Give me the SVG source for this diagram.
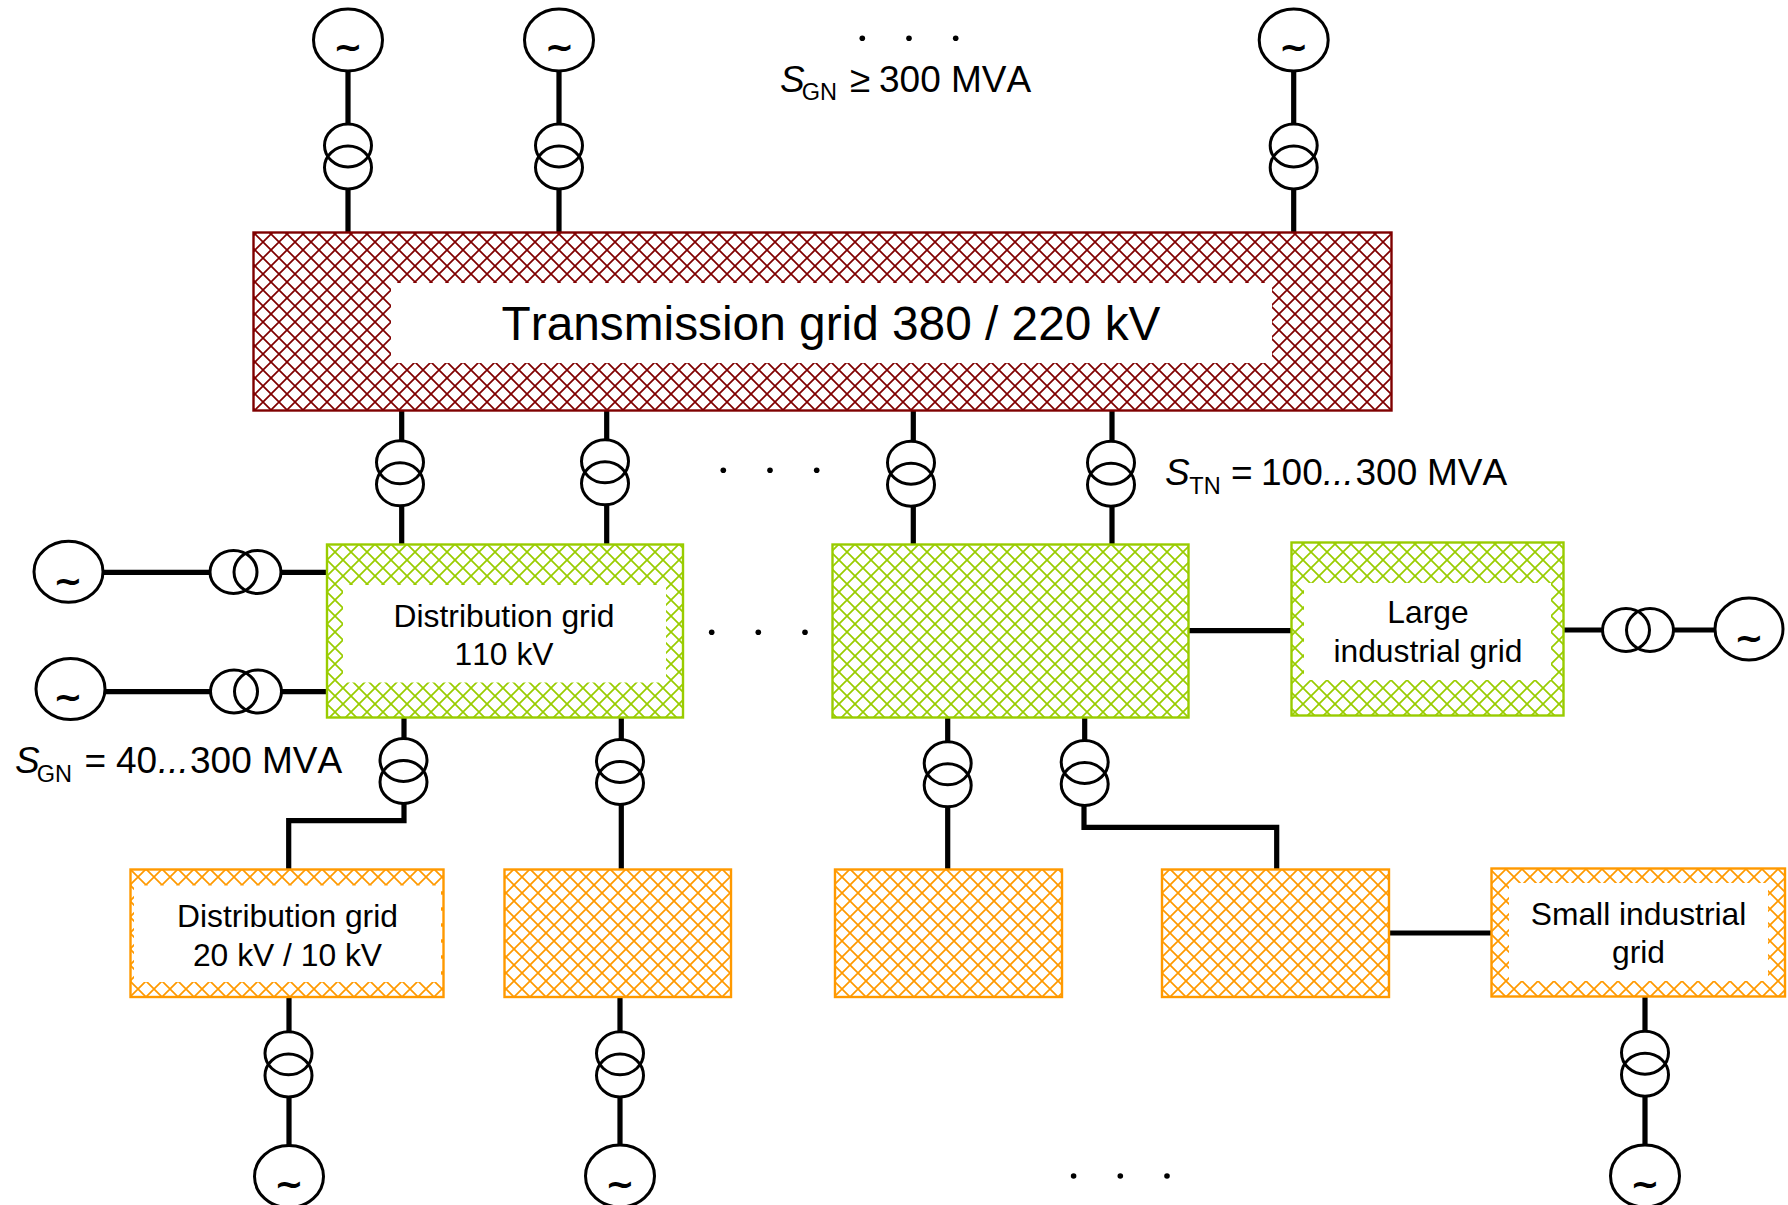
<svg xmlns="http://www.w3.org/2000/svg" width="1788" height="1205" viewBox="0 0 1788 1205">
<style>
text{font-family:"Liberation Sans",Arial,sans-serif;fill:#000;font-kerning:none}
.lbl{font-size:31.8px;text-anchor:middle}
.big{font-size:47.8px;text-anchor:middle}
.eq{font-size:37px}
.sub{font-size:23.5px}
.it{font-style:italic}
.tilde{font-family:"DejaVu Sans",sans-serif;font-weight:bold;font-size:35px;text-anchor:middle}
.gen,.xf{fill:none;stroke:#000;stroke-width:3}
.wire{fill:none;stroke:#000;stroke-width:5.2;stroke-linejoin:miter}
.r{stroke:#7f0000;stroke-width:2.4;fill:url(#pr)}
.g{stroke:#99cc00;stroke-width:2.4;fill:url(#pg)}
.o{stroke:#ff9900;stroke-width:2.4;fill:url(#po)}
.hole{fill:#fff;stroke:none}
.dot{fill:#000}
</style>
<defs>
<pattern id="pr" patternUnits="userSpaceOnUse" width="16" height="16" x="255" y="234"><path d="M-1 -1L17 17M17 -1L-1 17" stroke="#7f0000" stroke-width="1.7" fill="none"/></pattern>
<pattern id="pg" patternUnits="userSpaceOnUse" width="16" height="16" x="327" y="544"><path d="M-1 -1L17 17M17 -1L-1 17" stroke="#99cc00" stroke-width="1.7" fill="none"/></pattern>
<pattern id="po" patternUnits="userSpaceOnUse" width="16" height="16" x="130" y="869"><path d="M-1 -1L17 17M17 -1L-1 17" stroke="#ff9900" stroke-width="1.7" fill="none"/></pattern>
</defs>

<g id="connectors">
<path class="wire" d="M348 71V124M348 189V232"/>
<path class="wire" d="M559 71V124M559 189V232"/>
<path class="wire" d="M1293.700 71V124M1293.700 189V232"/>
<path class="wire" d="M401.700 411V441M401.700 506V544"/>
<path class="wire" d="M606.700 411V440M606.700 505V544"/>
<path class="wire" d="M913.300 411V441M913.300 506V544"/>
<path class="wire" d="M1112 411V441M1112 506V544"/>
<path class="wire" d="M104 572.300H210M281 572.300H326"/>
<path class="wire" d="M105 691.700H210.500M282 691.700H326"/>
<path class="wire" d="M404 718V738M404 804V820.700H288.700V869"/>
<path class="wire" d="M621.300 717V740M621.300 805V869"/>
<path class="wire" d="M947.700 717V741M947.700 807V869"/>
<path class="wire" d="M1084.700 717V740M1084 806V827.300H1276.700V869"/>
<path class="wire" d="M1189 630.700H1291"/>
<path class="wire" d="M1563.500 630H1603M1674 630H1715"/>
<path class="wire" d="M1389 933H1491"/>
<path class="wire" d="M289 997V1031M289 1097V1146"/>
<path class="wire" d="M620 997V1031M620 1097V1146"/>
<path class="wire" d="M1645 997V1031M1645 1096V1146"/>
</g>

<g id="transmission-grid"><rect class="r" x="253.500" y="232.500" width="1138" height="178"/><rect class="hole" x="391" y="283" width="881" height="80"/><text class="big" x="831" y="340">Transmission grid 380 / 220 kV</text></g>
<g id="distribution-110-a"><rect class="g" x="327" y="544.500" width="356" height="173"/><rect class="hole" x="343" y="585" width="323" height="97.500"/><text class="lbl" x="504" y="626.500">Distribution grid</text><text class="lbl" x="504" y="664.500">110 kV</text></g>
<g id="distribution-110-b"><rect class="g" x="832.500" y="544.500" width="356" height="173"/></g>
<g id="large-industrial"><rect class="g" x="1291.500" y="542.500" width="272" height="173"/><rect class="hole" x="1304" y="583" width="247" height="97"/><text class="lbl" x="1428" y="623">Large</text><text class="lbl" x="1428" y="661.500">industrial grid</text></g>
<g id="distribution-20-a"><rect class="o" x="130.500" y="869.500" width="313" height="127.500"/><rect class="hole" x="134" y="885.500" width="307" height="96.500"/><text class="lbl" x="287.500" y="926.500">Distribution grid</text><text class="lbl" x="287.500" y="965.500">20 kV / 10 kV</text></g>
<g id="distribution-20-b"><rect class="o" x="504.500" y="869.500" width="226.500" height="127.500"/></g>
<g id="distribution-20-c"><rect class="o" x="835" y="869.500" width="227" height="127.500"/></g>
<g id="distribution-20-d"><rect class="o" x="1162" y="869.500" width="227" height="127.500"/></g>
<g id="small-industrial"><rect class="o" x="1491.500" y="868.500" width="293.500" height="128"/><rect class="hole" x="1509" y="883" width="259" height="98"/><text class="lbl" x="1638.500" y="925">Small industrial</text><text class="lbl" x="1638.500" y="963">grid</text></g>

<g id="gen-top-1"><ellipse class="gen" cx="348" cy="40" rx="34.500" ry="31"/><text class="tilde" x="348" y="59">~</text></g>
<g id="gen-top-2"><ellipse class="gen" cx="559" cy="40" rx="34.500" ry="31"/><text class="tilde" x="559.500" y="59">~</text></g>
<g id="gen-top-3"><ellipse class="gen" cx="1293.700" cy="40" rx="34.500" ry="31"/><text class="tilde" x="1293.700" y="59">~</text></g>
<g id="gen-left-1"><ellipse class="gen" cx="68.500" cy="571.700" rx="34.500" ry="30.500"/><text class="tilde" x="68" y="593">~</text></g>
<g id="gen-left-2"><ellipse class="gen" cx="70.500" cy="689" rx="34.500" ry="30.500"/><text class="tilde" x="68" y="709">~</text></g>
<g id="gen-right"><ellipse class="gen" cx="1749" cy="629" rx="34" ry="31"/><text class="tilde" x="1749" y="650">~</text></g>
<g id="gen-bottom-1"><ellipse class="gen" cx="289" cy="1176.500" rx="34.500" ry="31"/><text class="tilde" x="289" y="1196">~</text></g>
<g id="gen-bottom-2"><ellipse class="gen" cx="620" cy="1176" rx="34.500" ry="31"/><text class="tilde" x="620" y="1196">~</text></g>
<g id="gen-bottom-3"><ellipse class="gen" cx="1645" cy="1176" rx="34.500" ry="31"/><text class="tilde" x="1645" y="1196">~</text></g>

<g id="xf-top-1"><ellipse class="xf" cx="348" cy="145.500" rx="23.500" ry="21.500"/><ellipse class="xf" cx="348" cy="167.500" rx="23.500" ry="21.500"/></g>
<g id="xf-top-2"><ellipse class="xf" cx="559" cy="145.500" rx="23.500" ry="21.500"/><ellipse class="xf" cx="559" cy="167.500" rx="23.500" ry="21.500"/></g>
<g id="xf-top-3"><ellipse class="xf" cx="1293.700" cy="145.500" rx="23.500" ry="21.500"/><ellipse class="xf" cx="1293.700" cy="167.500" rx="23.500" ry="21.500"/></g>
<g id="xf-tn-1"><ellipse class="xf" cx="400" cy="462.300" rx="23.500" ry="21.500"/><ellipse class="xf" cx="400" cy="484.300" rx="23.500" ry="21.500"/></g>
<g id="xf-tn-2"><ellipse class="xf" cx="605" cy="461.300" rx="23.500" ry="21.500"/><ellipse class="xf" cx="605" cy="483.300" rx="23.500" ry="21.500"/></g>
<g id="xf-tn-3"><ellipse class="xf" cx="911" cy="462.700" rx="23.500" ry="21.500"/><ellipse class="xf" cx="911" cy="484.700" rx="23.500" ry="21.500"/></g>
<g id="xf-tn-4"><ellipse class="xf" cx="1111" cy="462.700" rx="23.500" ry="21.500"/><ellipse class="xf" cx="1111" cy="484.700" rx="23.500" ry="21.500"/></g>
<g id="xf-left-1"><ellipse class="xf" cx="233.500" cy="572" rx="23.500" ry="21.500"/><ellipse class="xf" cx="257.500" cy="572" rx="23.500" ry="21.500"/></g>
<g id="xf-left-2"><ellipse class="xf" cx="234" cy="691.500" rx="23.500" ry="21.500"/><ellipse class="xf" cx="258" cy="691.500" rx="23.500" ry="21.500"/></g>
<g id="xf-right"><ellipse class="xf" cx="1626" cy="630" rx="23.500" ry="21.500"/><ellipse class="xf" cx="1650" cy="630" rx="23.500" ry="21.500"/></g>
<g id="xf-dn-1"><ellipse class="xf" cx="403.500" cy="760" rx="23.500" ry="21.500"/><ellipse class="xf" cx="403.500" cy="782" rx="23.500" ry="21.500"/></g>
<g id="xf-dn-2"><ellipse class="xf" cx="620" cy="761" rx="23.500" ry="21.500"/><ellipse class="xf" cx="620" cy="783" rx="23.500" ry="21.500"/></g>
<g id="xf-dn-3"><ellipse class="xf" cx="947.700" cy="763.300" rx="23.500" ry="21.500"/><ellipse class="xf" cx="947.700" cy="785.300" rx="23.500" ry="21.500"/></g>
<g id="xf-dn-4"><ellipse class="xf" cx="1084.700" cy="762" rx="23.500" ry="21.500"/><ellipse class="xf" cx="1084.700" cy="784" rx="23.500" ry="21.500"/></g>
<g id="xf-low-1"><ellipse class="xf" cx="288.500" cy="1053.300" rx="23.500" ry="21.500"/><ellipse class="xf" cx="288.500" cy="1075.500" rx="23.500" ry="21.500"/></g>
<g id="xf-low-2"><ellipse class="xf" cx="620" cy="1053.300" rx="23.500" ry="21.500"/><ellipse class="xf" cx="620" cy="1075.500" rx="23.500" ry="21.500"/></g>
<g id="xf-low-3"><ellipse class="xf" cx="1645" cy="1052.700" rx="23.500" ry="21.500"/><ellipse class="xf" cx="1645" cy="1074.700" rx="23.500" ry="21.500"/></g>

<g id="dots">
<circle class="dot" cx="862.300" cy="38.300" r="2.800"/><circle class="dot" cx="909" cy="38.300" r="2.800"/><circle class="dot" cx="955.700" cy="38.300" r="2.800"/>
<circle class="dot" cx="723.300" cy="470.300" r="2.800"/><circle class="dot" cx="770" cy="470.300" r="2.800"/><circle class="dot" cx="816.700" cy="470.300" r="2.800"/>
<circle class="dot" cx="711.700" cy="632.300" r="2.800"/><circle class="dot" cx="758.300" cy="632.300" r="2.800"/><circle class="dot" cx="805" cy="632.300" r="2.800"/>
<circle class="dot" cx="1073.600" cy="1176" r="2.800"/><circle class="dot" cx="1120.300" cy="1176" r="2.800"/><circle class="dot" cx="1167" cy="1176" r="2.800"/>
</g>

<g id="labels">
<text class="eq" y="91.500"><tspan class="it" x="780">S</tspan><tspan x="850">≥</tspan><tspan x="879">300</tspan><tspan x="951">MVA</tspan></text>
<text class="sub" x="801.700" y="100">GN</text>
<text class="eq" y="485"><tspan class="it" x="1165">S</tspan><tspan x="1231">=</tspan><tspan x="1261">100</tspan><tspan class="it" x="1323">...</tspan><tspan x="1355.500">300</tspan><tspan x="1427">MVA</tspan></text>
<text class="sub" x="1189.300" y="494">TN</text>
<text class="eq" y="772.500"><tspan class="it" x="15">S</tspan><tspan x="84.500">=</tspan><tspan x="116">40</tspan><tspan class="it" x="158">...</tspan><tspan x="190">300</tspan><tspan x="262">MVA</tspan></text>
<text class="sub" x="36.700" y="781.500">GN</text>
</g>
</svg>
